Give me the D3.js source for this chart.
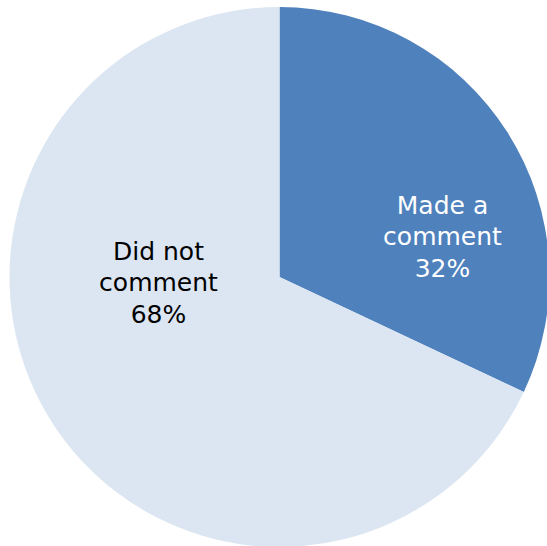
<!DOCTYPE html>
<html>
<head>
<meta charset="utf-8">
<script src="https://cdn.jsdelivr.net/npm/d3@7"></script>
<style>
html, body { margin: 0; padding: 0; background: #fff; overflow: hidden; }
text { font-family: "DejaVu Sans", sans-serif; font-size: 25px; }
</style>
</head>
<body>
<div id="chart"></div>
<script>
var categories = ['Made a comment', 'Did not comment'];
var labelLines = [['Made a', 'comment'], ['Did not', 'comment']];
var values = [32, 68];

var width = 547, height = 546;
var cx = 279.5, cy = 277, radius = 270;
var colors = ['#4f81bd', '#dce6f2'];
var textColors = ['#ffffff', '#000000'];
// baseline of the middle line of each label, relative to the centre (Excel doesn't use centroids)
var labelPos = [{x: 163, y: -32}, {x: -121, y: 14}];
var lineHeight = 31.5;

var svg = d3.select('#chart').append('svg')
	.attr('width', width)
	.attr('height', height);

var pie = d3.pie().sort(null).value(function(d) { return d; });
var arc = d3.arc().innerRadius(0).outerRadius(radius);

var g = svg.append('g')
	.attr('transform', 'translate(' + cx + ',' + cy + ')');

var slices = g.selectAll('g.slice')
	.data(pie(values))
	.enter().append('g')
	.classed('slice', true);

slices.append('path')
	.attr('d', arc)
	.attr('fill', function(d, i) { return colors[i]; });

slices.each(function(d, i) {
	var lines = labelLines[i].concat([values[i] + '%']);
	var t = d3.select(this).append('text')
		.attr('text-anchor', 'middle')
		.attr('fill', textColors[i]);
	lines.forEach(function(line, j) {
		t.append('tspan')
			.attr('x', labelPos[i].x)
			.attr('y', labelPos[i].y + (j - 1) * lineHeight)
			.text(line);
	});
});
</script>
</body>
</html>
